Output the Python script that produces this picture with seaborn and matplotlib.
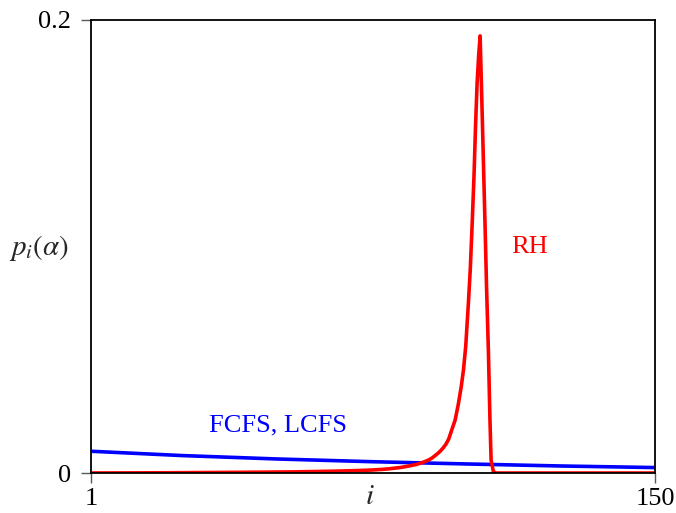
import numpy as np
import pandas as pd
import matplotlib
matplotlib.use("Agg")
import matplotlib.pyplot as plt
import seaborn as sns

# Data
blue_i = [1, 25, 50, 75, 100, 125, 150]
blue_p = [0.0096, 0.0077, 0.0062, 0.0050, 0.0040, 0.0031, 0.0024]

red_i = [1, 20, 40, 55, 65, 70, 75, 78, 80, 83, 85, 87, 88.5, 90, 91, 92, 93,
         94, 94.8, 95.5, 96.3, 97.2, 98, 98.8, 99.4, 100, 100.7, 101.2, 101.7,
         102.2, 102.6, 103.0, 103.4, 103.8, 104.4, 105.1, 105.5, 106.0, 106.4,
         106.7, 107.3, 108, 150]
red_p = [0.0, 0.0001, 0.0003, 0.0005, 0.0008, 0.0010, 0.0013, 0.0016, 0.0019,
         0.0025, 0.0031, 0.0038, 0.0046, 0.0056, 0.0065, 0.0078, 0.0092, 0.0110,
         0.0128, 0.0150, 0.0190, 0.0234, 0.0300, 0.0380, 0.0455, 0.0560, 0.0750,
         0.0900, 0.1100, 0.1320, 0.1536, 0.1720, 0.1840, 0.1930, 0.1550, 0.1095,
         0.0820, 0.0530, 0.0234, 0.0057, 0.0006, 0.0, 0.0]

x_ticks = [1, 150]
y_ticks = [0, 0.2]
y_ticklabels = ["0", "0.2"]

sns.set_theme(style="white")
plt.rcParams['font.family'] = ['Liberation Serif', 'DejaVu Serif']
plt.rcParams['mathtext.fontset'] = 'stix'

fig = plt.figure(figsize=(6.76, 5.13), dpi=100)
ax = fig.add_axes([91/676, 1-473/513, (655-91)/676, (473-20)/513])

df_blue = pd.DataFrame({"i": blue_i, "p": blue_p})
df_red = pd.DataFrame({"i": red_i, "p": red_p})
sns.lineplot(data=df_blue, x="i", y="p", ax=ax, color="#0000ff", lw=2.6)
sns.lineplot(data=df_red, x="i", y="p", ax=ax, color="#ff0000", lw=2.6)

ax.set_xlim(1, 150)
ax.set_ylim(0, 0.2)
ax.set_xticks(x_ticks)
ax.set_xticklabels([str(t) for t in x_ticks])
ax.set_yticks(y_ticks)
ax.set_yticklabels(y_ticklabels)
ax.tick_params(axis='both', which='both', direction='out', length=7.5, width=1,
               color='0.35', labelsize=19, labelcolor='black')
ax.tick_params(axis='y', pad=7)
ax.tick_params(axis='x', pad=3)
ax.tick_params(bottom=True, left=True)

for s in ax.spines.values():
    s.set_color('black')
    s.set_linewidth(1.3)

ax.set_xlabel(r"$i$", fontsize=21)
ax.xaxis.set_label_coords(0.495, -0.053)
ax.xaxis.label.set_va('center')
ax.set_ylabel(r"$p_i(\alpha)$", fontsize=21, rotation=0, ha='center', va='center')
ax.yaxis.set_label_coords(-0.092, 0.497)

ax.text(50.4, 0.0212, "FCFS, LCFS", color="#0000ff", fontsize=19,
        ha='center', va='center')
ax.text(117, 0.0998, "RH", color="#ff0000", fontsize=19, ha='center', va='center')

fig.savefig("out.png", dpi=100)
